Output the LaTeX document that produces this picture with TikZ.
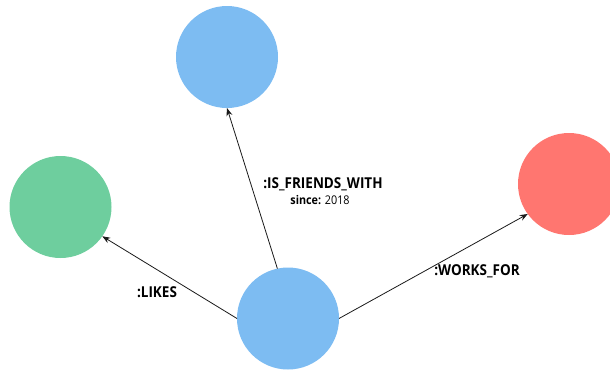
\documentclass[tikz,border=0pt]{standalone}
\usepackage{fontspec}
\setmainfont{Open Sans}
\newfontfamily\relfont[FakeStretch=0.9]{Open Sans}
\usetikzlibrary{arrows.meta}
\definecolor{nodeblue}{RGB}{125,188,242}
\definecolor{nodegreen}{RGB}{110,206,158}
\definecolor{nodered}{RGB}{255,118,112}
\begin{document}
\begin{tikzpicture}[x=1pt,y=-1pt,
  gnode/.style={circle,minimum size=102pt,inner sep=0pt,outer sep=0pt},
  rel/.style={draw=black!90,line width=0.8pt,-{Stealth[length=8pt,width=6pt]}},
  rlabel/.style={font=\relfont\bfseries\fontsize{15}{17}\selectfont,inner sep=0pt},
  plabel/.style={font=\relfont\fontsize{12}{14}\selectfont,inner sep=0pt}]
\useasboundingbox (0,0) rectangle (610,370);
\clip (0,0) rectangle (610,370);
% graph nodes
\node[gnode,fill=nodeblue]  (person)   at (288,318.5) {};
\node[gnode,fill=nodeblue]  (friend)   at (227,57)    {};
\node[gnode,fill=nodegreen] (liked)    at (60.5,207)  {};
\node[gnode,fill=nodered]   (employer) at (569,184)   {};
% relationships
\draw[rel] (person.102)  -- (friend.south);
\draw[rel] (person.west) -- (liked.-35);
\draw[rel] (person.east) -- (employer.216);
% relationship labels
\node[rlabel] (likes)   at (157,292) {:LIKES};
\node[rlabel] (works)   at (477,271) {:WORKS\_FOR};
\node[rlabel] (friends) at (323,184) {:IS\_FRIENDS\_WITH};
\node[plabel] (since)   at (320,200) {\textbf{since:} 2018};
\end{tikzpicture}
\end{document}
